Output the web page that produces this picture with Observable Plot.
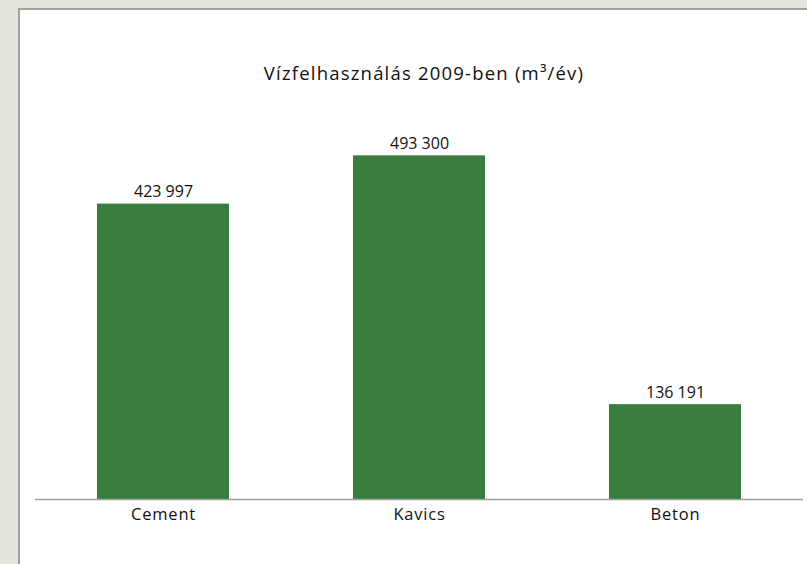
<!DOCTYPE html>
<html>
<head>
<meta charset="utf-8">
<script src="https://cdn.jsdelivr.net/npm/d3@7"></script>
<script src="https://cdn.jsdelivr.net/npm/@observablehq/plot@0.6"></script>
<style>
  html, body { margin: 0; padding: 0; }
  body { width: 807px; height: 564px; background: #e3e5dc; position: relative; overflow: hidden; font-family: "Open Sans", sans-serif; }
  #panel { position: absolute; left: 18px; top: 8px; width: 800px; height: 600px; background: #fff; border-left: 2px solid #a0a19c; border-top: 2px solid #a0a19c; box-sizing: border-box; }
  #title { position: absolute; top: 60px; left: 424px; transform: translateX(-50%); font-size: 18.5px; letter-spacing: 1.2px; color: #111; white-space: nowrap; }
  #chart { position: absolute; left: 0; top: 0; }
</style>
</head>
<body>
<div id="panel"></div>
<div id="title">Vízfelhasználás 2009-ben (m³/év)</div>
<div id="chart"></div>
<script>
const categories = ["Cement", "Kavics", "Beton"];
const values = [423997, 493300, 136191];

const data = categories.map((c, i) => ({category: c, value: values[i]}));
const fmt = d3.formatLocale({decimal: ",", thousands: " ", grouping: [3], currency: ["", ""]}).format(",d");

const chart = Plot.plot({
  width: 807,
  height: 564,
  marginLeft: 35,
  marginRight: 4,
  marginTop: 81,
  marginBottom: 65,
  style: {background: "transparent", fontFamily: "Open Sans, sans-serif", fontSize: "16px", color: "#111"},
  x: {domain: categories, paddingInner: 0.484, paddingOuter: 0.242, label: null, tickSize: 0, tickPadding: 9},
  y: {domain: [0, 600000], axis: null},
  marks: [
    Plot.barY(data, {x: "category", y: "value", fill: "#3a7d3f"}),
    Plot.ruleY([0], {stroke: "#a0a0a0", strokeWidth: 1.5}),
    Plot.text(data, {x: "category", y: "value", text: d => fmt(d.value), dy: -12, fontSize: 16, fill: "#111"})
  ]
});
chart.querySelectorAll('[aria-label="x-axis tick label"] text').forEach(t => { t.style.fontSize = "16.5px"; t.style.letterSpacing = "0.8px"; });
document.getElementById("chart").appendChild(chart);
</script>
</body>
</html>
